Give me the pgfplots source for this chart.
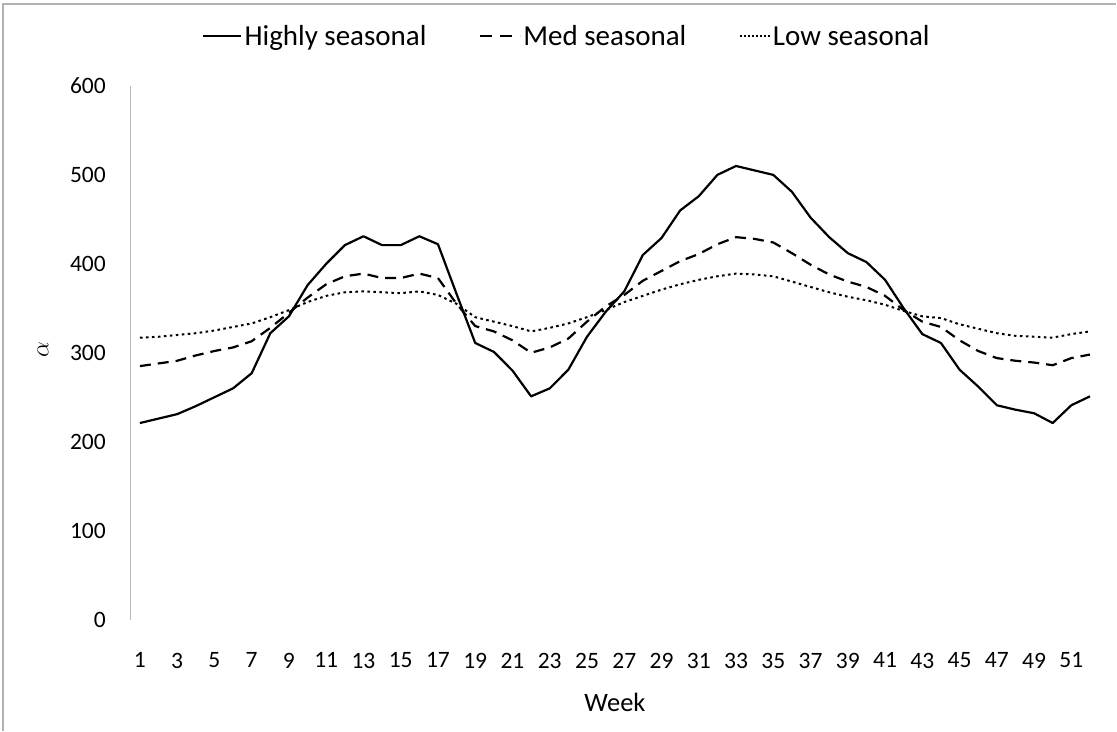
\documentclass[border=0pt]{standalone}
\usepackage{fontspec}
\setmainfont{Carlito}
\usepackage{pgfplots}
\pgfplotsset{compat=1.18}
\usepackage{pgfplotstable}

\pgfplotstableread{
week high med low
1 221 285 317
2 226 288 318
3 231 291 320
4 240 297 322
5 250 302 325
6 260 306 329
7 277 313 333
8 322 328 340
9 341 345 348
10 376 362 357
11 400 377 364
12 421 386 368
13 431 389 369
14 421 384 368
15 421 384 367
16 431 389 369
17 422 384 365
18 366 355 355
19 311 330 340
20 301 324 335
21 280 314 330
22 251 300 324
23 260 306 328
24 281 316 333
25 318 335 340
26 346 352 348
27 369 365 357
28 410 381 364
29 429 392 371
30 460 403 377
31 476 411 382
32 500 422 386
33 510 430 389
34 505 428 388
35 500 424 386
36 481 412 380
37 452 399 374
38 430 388 368
39 412 380 363
40 402 374 359
41 382 364 354
42 350 348 347
43 321 335 341
44 311 329 339
45 281 314 332
46 262 302 327
47 241 294 322
48 236 291 319
49 232 289 318
50 221 286 317
51 241 294 321
52 251 298 324
}\datatable

\begin{document}
\begin{tikzpicture}
\begin{axis}[
  scale only axis, width=969.3pt, height=534pt,
  xmin=0.5, xmax=52.5, ymin=0, ymax=600,
  xtick={1,3,...,51}, ytick={0,100,...,600},
  axis lines=left,
  x axis line style={draw=none},
  y axis line style={draw=gray!55, line width=0.8pt, -},
  major tick length=0pt,
  /pgf/number format/assume math mode=true,
  tick label style={font=\fontsize{23.5}{28}\selectfont, inner sep=0pt},
  xticklabel style={anchor=north, yshift=-33pt},
  yticklabel style={anchor=east, xshift=-24.7pt},
  xlabel={Week},
  xlabel style={at={(axis description cs:0.5,0)}, anchor=base, yshift=-92pt, font=\fontsize{26.5}{30}\selectfont},
  ylabel={$\alpha$},
  ylabel style={at={(axis description cs:-0.0905,0.505)}, anchor=center, font=\fontsize{25}{30}\selectfont},
  legend columns=3,
  legend cell align=left,
  legend style={at={(axis description cs:0.4506,1.0936)}, anchor=center, draw=none, fill=none,
    font=\fontsize{29}{34}\selectfont, inner sep=0pt,
    nodes={inner sep=2.5pt},
    /tikz/every even column/.append style={column sep=50pt}},
]
\addplot[black, line width=2.2pt, line join=round,
  legend image code/.code={\draw[black,line width=2pt] (0pt,0pt) -- (38pt,0pt);}]
  table[x=week,y=high]{\datatable};
\addlegendentry{Highly seasonal}
\addplot[black, line width=2.2pt, dash pattern=on 11pt off 7pt,
  legend image code/.code={\draw[black,line width=2pt,dash pattern=on 12pt off 8pt] (0pt,0pt) -- (40pt,0pt);}]
  table[x=week,y=med]{\datatable};
\addlegendentry{Med seasonal}
\addplot[black, line width=2pt, dash pattern=on 2.6pt off 3.4pt,
  legend image code/.code={\draw[black,line width=1.6pt,dash pattern=on 2pt off 2pt] (0pt,0pt) -- (30pt,0pt);}]
  table[x=week,y=low]{\datatable};
\addlegendentry{Low seasonal}
\end{axis}
\draw[gray!60, line width=1.5pt] (-127.7pt,-111pt) -- (-127.7pt,616pt) -- (986.3pt,616pt);
\path (-130.7pt,-111pt) rectangle (986.3pt,620pt);
\end{tikzpicture}
\end{document}
